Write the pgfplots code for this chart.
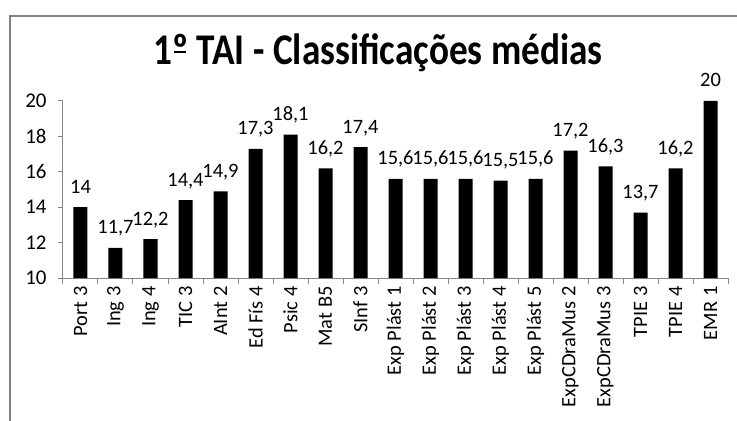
\documentclass[border=0pt]{standalone}
\usepackage{pgfplots}
\pgfplotsset{compat=1.18}
\usepackage{fontspec}
\setmainfont{Carlito}
\newfontfamily\titlefont[FakeStretch=0.85]{Carlito}
\definecolor{axgray}{RGB}{134,134,134}
\definecolor{bordergray}{RGB}{128,128,128}
\begin{document}
\begin{tikzpicture}
\useasboundingbox (-63bp,-143bp) rectangle (674bp,278bp);
\draw[bordergray, line width=2bp] (-53bp,-160bp) -- (-53bp,262bp) -- (700bp,262bp);
\node[anchor=base, font=\titlefont\fontsize{44}{46}\selectfont\bfseries] at (315bp,213bp) {1\rlap{\hspace{0.03em}\rule[0.27em]{0.28em}{0.06em}}º TAI - Classificações médias};
\begin{axis}[
  at={(0,0)}, anchor=south west,
  scale only axis, width=665bp, height=177bp,
  xmin=-0.5, xmax=18.5, ymin=10, ymax=20,
  ytick={10,12,...,20},
  xtick={0,...,18},
  xticklabels={Port 3, Ing 3, Ing 4, TIC 3, AInt 2, Ed Fís 4, Psic 4, Mat B5, SInf 3, Exp Plást 1, Exp Plást 2, Exp Plást 3, Exp Plást 4, Exp Plást 5, ExpCDraMus 2, ExpCDraMus 3, TPIE 3, TPIE 4, EMR 1},
  major x tick style={draw=none},
  minor xtick={-0.5,0.5,...,18.5},
  axis x line*=bottom, axis y line*=left,
  axis line style={axgray, line width=1bp},
  tick style={axgray, line width=1bp},
  tick align=outside,
  major tick length=5bp, minor tick length=6bp,
  xticklabel style={rotate=90, anchor=east, font=\fontsize{20.5}{22}\selectfont},
  yticklabel style={font=\fontsize{21}{22}\selectfont, xshift=-8bp},
  /pgf/number format/assume math mode=true,
  /pgf/number format/use comma,
  /pgf/number format/1000 sep={},
  ybar, bar width=14bp,
  nodes near coords,
  every node near coord/.append style={font=\fontsize{20.5}{22}\selectfont, anchor=base, yshift=14bp, black},
]
\addplot[fill=black, draw=none] table[x=x, y=y] {
x y
0 14
1 11.7
2 12.2
3 14.4
4 14.9
5 17.3
6 18.1
7 16.2
8 17.4
9 15.6
10 15.6
11 15.6
12 15.5
13 15.6
14 17.2
15 16.3
16 13.7
17 16.2
18 20
};
\end{axis}
\end{tikzpicture}
\end{document}
